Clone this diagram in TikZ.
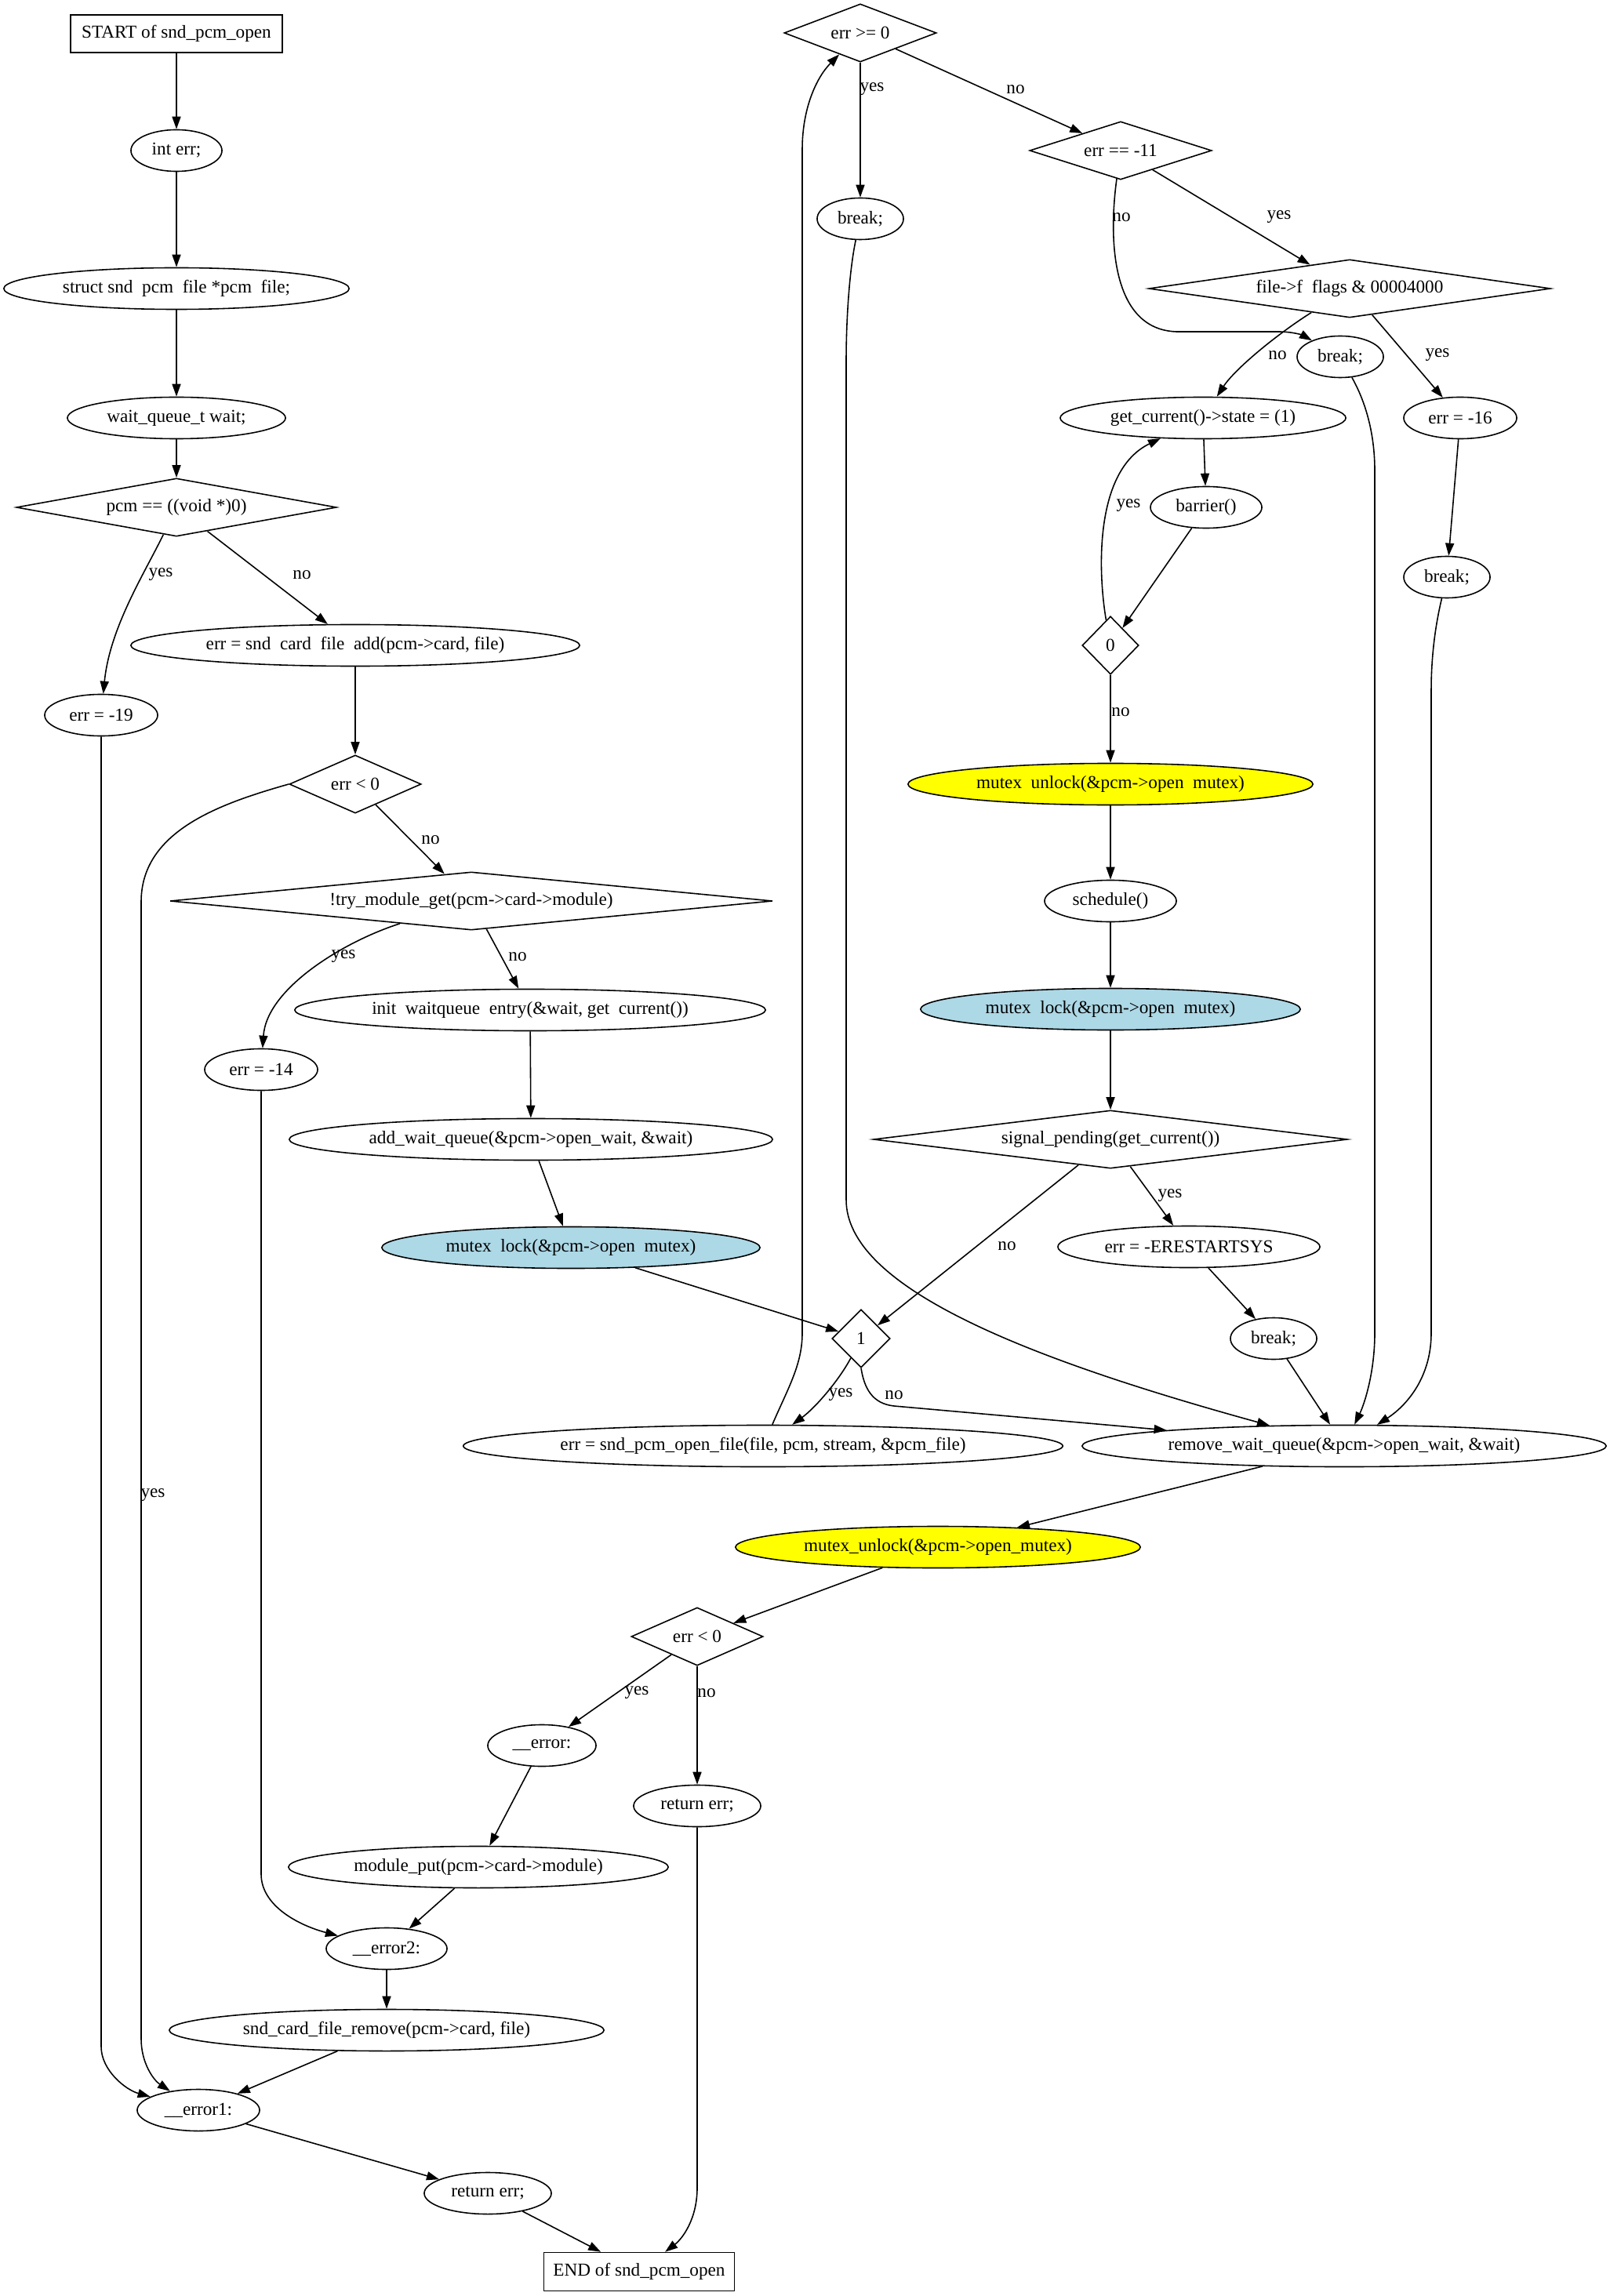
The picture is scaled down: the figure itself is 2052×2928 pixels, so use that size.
\documentclass[tikz,border=0pt]{standalone}
\usepackage{fontspec}
\setmainfont{Liberation Serif}
\usepackage{tikz}
\usetikzlibrary{arrows.meta,shapes.geometric,positioning}
\definecolor{gvyellow}{RGB}{255,255,0}
\definecolor{gvlightblue}{RGB}{173,216,230}
\newcommand{\usgap}{\hspace{.5em}}
\tikzstyle{stmt} = [ellipse, draw, inner sep=0pt, minimum height=0.53cm]
\tikzstyle{cond} = [diamond, draw, inner sep=0pt, minimum height=0.74cm]
\tikzstyle{term} = [rectangle, draw, inner sep=0pt]
\tikzstyle{flow} = [-{Triangle[length=0.16cm,width=0.11cm]}]
\tikzstyle{lbl} = [inner sep=0pt]

\begin{document}
\begin{tikzpicture}[x=0.01cm, y=0.01cm, line width=0.45pt, font=\fontsize{6.6}{7.9}\selectfont]
    \useasboundingbox (0,0) rectangle (2052,-2928);

    % Entry and setup
    \node[term, minimum width=2.70cm, minimum height=0.48cm] (entry) at (225,-43) {START of snd\_pcm\_open};
    \node[stmt, minimum width=1.16cm] (interr) at (225,-192) {int err;};
    \node[stmt, minimum width=4.40cm] (structpcm) at (225,-368) {struct snd\usgap pcm\usgap file *pcm\usgap file;};
    \node[stmt, minimum width=2.78cm] (waitq) at (225,-533) {wait\_queue\_t wait;};
    \node[cond, minimum width=4.08cm, aspect=5.5] (pcmnull) at (225,-647) {pcm == ((void *)0)};
    \node[stmt, minimum width=5.72cm] (cardadd) at (453,-823) {err = snd\usgap card\usgap file\usgap add(pcm->card, file)};
    \node[stmt, minimum width=1.44cm] (errnodev) at (129,-912) {err = -19};
    \node[cond, minimum width=1.68cm, aspect=2.27] (addfail) at (453,-1000) {err < 0};
    \node[cond, minimum width=7.68cm, aspect=10.4] (trymod) at (601,-1149) {!try\_module\_get(pcm->card->module)};
    \node[stmt, minimum width=6.00cm] (initwq) at (676,-1288) {init\usgap waitqueue\usgap entry(\&wait, get\usgap current())};
    \node[stmt, minimum width=1.44cm] (errfault) at (333,-1364) {err = -14};
    \node[stmt, minimum width=6.16cm] (addwq) at (677,-1453) {add\_wait\_queue(\&pcm->open\_wait, \&wait)};
    \node[stmt, fill=gvlightblue, minimum width=4.82cm] (lockA) at (728,-1591) {mutex\usgap lock(\&pcm->open\usgap mutex)};
    \node[cond, minimum width=0.74cm, aspect=1] (loopone) at (1098,-1707) {1};
    \node[stmt, minimum width=7.64cm] (openfile) at (973,-1844) {err = snd\_pcm\_open\_file(file, pcm, stream, \&pcm\_file)};

    % Retry loop
    \node[cond, minimum width=1.94cm, aspect=2.6] (errok) at (1097,-42) {err >= 0};
    \node[stmt, minimum width=1.10cm] (breakok) at (1097,-279) {break;};
    \node[cond, minimum width=2.32cm, aspect=3.1] (erragain) at (1429,-192) {err == -11};
    \node[cond, minimum width=5.12cm, aspect=6.9] (nonblock) at (1721,-368) {file->f\usgap flags \& 00004000};
    \node[stmt, minimum width=1.10cm] (breakagain) at (1709,-455) {break;};
    \node[stmt, minimum width=3.64cm] (setstate) at (1534,-533) {get\_current()->state = (1)};
    \node[stmt, minimum width=1.44cm] (errbusy) at (1862,-533) {err = -16};
    \node[stmt, minimum width=1.42cm] (barrier) at (1538,-647) {barrier()};
    \node[stmt, minimum width=1.10cm] (breakbusy) at (1845,-736) {break;};
    \node[cond, minimum width=0.72cm, aspect=1] (loopzero) at (1416,-823) {0};
    \node[stmt, fill=gvyellow, minimum width=5.16cm] (unlockA) at (1416,-1000) {mutex\usgap unlock(\&pcm->open\usgap mutex)};
    \node[stmt, minimum width=1.68cm] (sched) at (1416,-1149) {schedule()};
    \node[stmt, fill=gvlightblue, minimum width=4.84cm] (lockB) at (1416,-1287) {mutex\usgap lock(\&pcm->open\usgap mutex)};
    \node[cond, minimum width=6.04cm, aspect=8.2] (sigpend) at (1416,-1453) {signal\_pending(get\_current())};
    \node[stmt, minimum width=3.34cm] (errrestart) at (1516,-1590) {err = -ERESTARTSYS};
    \node[stmt, minimum width=1.10cm] (breaksig) at (1624,-1707) {break;};
    \node[stmt, minimum width=6.68cm] (removewq) at (1714,-1844) {remove\_wait\_queue(\&pcm->open\_wait, \&wait)};

    % Exit and error paths
    \node[stmt, fill=gvyellow, minimum width=5.16cm] (unlockB) at (1196,-1973) {mutex\_unlock(\&pcm->open\_mutex)};
    \node[cond, minimum width=1.68cm, aspect=2.27] (errfinal) at (889,-2087) {err < 0};
    \node[stmt, minimum width=1.38cm] (errlabel) at (691,-2226) {\_\_error:};
    \node[stmt, minimum width=1.62cm] (retok) at (889,-2303) {return err;};
    \node[stmt, minimum width=4.84cm] (modput) at (610,-2381) {module\_put(pcm->card->module)};
    \node[stmt, minimum width=1.54cm] (errtwo) at (493,-2485) {\_\_error2:};
    \node[stmt, minimum width=5.54cm] (cardremove) at (493,-2589) {snd\_card\_file\_remove(pcm->card, file)};
    \node[stmt, minimum width=1.56cm] (errone) at (253,-2691) {\_\_error1:};
    \node[stmt, minimum width=1.62cm] (retfail) at (622,-2797) {return err;};
    \node[term, minimum width=2.43cm, minimum height=0.49cm] (exit) at (815,-2897) {END of snd\_pcm\_open};

    % Setup edges
    \draw[flow] (entry) -- (interr);
    \draw[flow] (interr) -- (structpcm);
    \draw[flow] (structpcm) -- (waitq);
    \draw[flow] (waitq) -- (pcmnull);
    \draw[flow] (pcmnull) .. controls (185,-730) and (140,-800) .. (errnodev) node[lbl] at (205,-733) {yes};
    \draw[flow] (pcmnull) -- (cardadd) node[lbl] at (385,-733) {no};
    \draw[flow] (cardadd) -- (addfail);
    \draw[flow] (addfail.west) .. controls (280,-1025) and (180,-1060) .. (180,-1150) -- (180,-2600) .. controls (180,-2630) and (195,-2652) .. (errone) node[lbl] at (195,-1907) {yes};
    \draw[flow] (errnodev) -- (129,-2610) .. controls (129,-2640) and (160,-2665) .. (errone);
    \draw[flow] (addfail) -- (trymod) node[lbl] at (549,-1071) {no};
    \draw[flow] (trymod) .. controls (440,-1200) and (340,-1260) .. (errfault) node[lbl] at (438,-1220) {yes};
    \draw[flow] (trymod) -- (initwq) node[lbl] at (660,-1220) {no};
    \draw[flow] (initwq) -- (addwq);
    \draw[flow] (errfault) -- (333,-2390) .. controls (333,-2430) and (380,-2455) .. (errtwo);
    \draw[flow] (addwq) -- (lockA);
    \draw[flow] (lockA) -- (loopone);
    \draw[flow] (loopone) .. controls (1070,-1760) and (1040,-1795) .. (openfile) node[lbl] at (1072,-1779) {yes};
    \draw[flow] (loopone.south) .. controls (1102,-1770) and (1112,-1790) .. (1140,-1793) -- (removewq) node[lbl] at (1140,-1779) {no};
    \draw[flow] (openfile) .. controls (1005,-1770) and (1023,-1740) .. (1023,-1700) -- (1023,-190) .. controls (1023,-140) and (1040,-100) .. (errok);

    % Loop edges
    \draw[flow] (errok) -- (breakok) node[lbl] at (1112,-114) {yes};
    \draw[flow] (errok) -- (erragain) node[lbl] at (1295,-114) {no};
    \draw[flow] (breakok) .. controls (1084,-340) and (1079,-400) .. (1079,-460) -- (1079,-1530) .. controls (1079,-1640) and (1300,-1730) .. (removewq);
    \draw[flow] (erragain) -- (nonblock) node[lbl] at (1631,-277) {yes};
    \draw[flow] (erragain) .. controls (1414,-300) and (1415,-420) .. (1500,-423) -- (1630,-423) .. controls (1650,-423) and (1662,-428) .. (breakagain) node[lbl] at (1430,-277) {no};
    \draw[flow] (nonblock) .. controls (1630,-425) and (1575,-470) .. (setstate) node[lbl] at (1629,-453) {no};
    \draw[flow] (nonblock) -- (errbusy) node[lbl] at (1833,-453) {yes};
    \draw[flow] (breakagain) .. controls (1740,-510) and (1753,-550) .. (1753,-600) -- (1753,-1700) .. controls (1753,-1750) and (1740,-1790) .. (removewq);
    \draw[flow] (errbusy) -- (breakbusy);
    \draw[flow] (breakbusy) .. controls (1832,-790) and (1825,-830) .. (1825,-880) -- (1825,-1700) .. controls (1825,-1760) and (1790,-1795) .. (removewq);
    \draw[flow] (setstate) -- (barrier);
    \draw[flow] (barrier) -- (loopzero);
    \draw[flow] (loopzero) .. controls (1400,-730) and (1395,-600) .. (setstate) node[lbl] at (1439,-645) {yes};
    \draw[flow] (loopzero) -- (unlockA) node[lbl] at (1429,-908) {no};
    \draw[flow] (unlockA) -- (sched);
    \draw[flow] (sched) -- (lockB);
    \draw[flow] (lockB) -- (sigpend);
    \draw[flow] (sigpend) -- (errrestart) node[lbl] at (1492,-1525) {yes};
    \draw[flow] (sigpend) -- (loopone) node[lbl] at (1284,-1589) {no};
    \draw[flow] (errrestart) -- (breaksig);
    \draw[flow] (breaksig) -- (removewq);

    % Exit edges
    \draw[flow] (removewq) -- (unlockB);
    \draw[flow] (unlockB) -- (errfinal);
    \draw[flow] (errfinal) -- (errlabel) node[lbl] at (812,-2159) {yes};
    \draw[flow] (errfinal) -- (retok) node[lbl] at (901,-2159) {no};
    \draw[flow] (errlabel) -- (modput);
    \draw[flow] (modput) -- (errtwo);
    \draw[flow] (errtwo) -- (cardremove);
    \draw[flow] (cardremove) -- (errone);
    \draw[flow] (errone) -- (retfail);
    \draw[flow] (retfail) -- (exit);
    \draw[flow] (retok) -- (889,-2790) .. controls (889,-2830) and (870,-2855) .. (exit);
\end{tikzpicture}
\end{document}
